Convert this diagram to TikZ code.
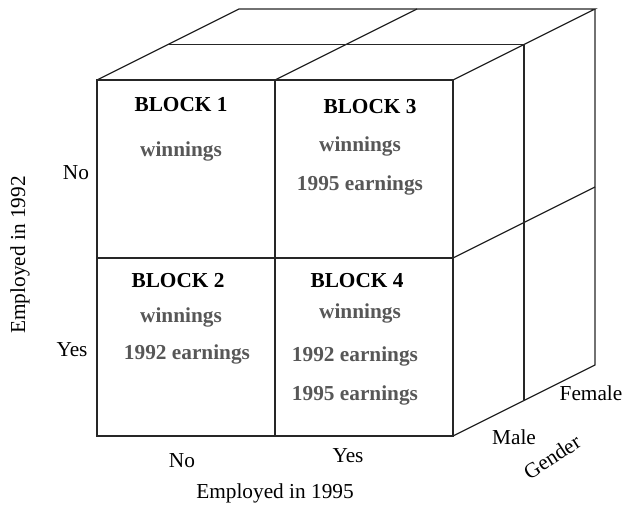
\documentclass[tikz,border=0pt]{standalone}
\usepackage{fontspec}
\setmainfont{Liberation Serif}
\begin{document}
\begin{tikzpicture}[x=1pt,y=-1pt,
  edge/.style={line width=1.3pt,black!85},
  lbl/.style={font=\fontsize{21.3}{25}\selectfont,inner sep=0pt},
  blk/.style={font=\fontsize{21.3}{25}\selectfont\bfseries,inner sep=0pt},
  itm/.style={font=\fontsize{21.3}{25}\selectfont\bfseries,text=black!66,inner sep=0pt}]
\useasboundingbox (0,0) rectangle (624,505);
% front face corners
\coordinate (FTL) at (97,80);
\coordinate (FTM) at (275,80);
\coordinate (FTR) at (453,80);
\coordinate (FML) at (97,258);
\coordinate (FMM) at (275,258);
\coordinate (FMR) at (453,258);
\coordinate (FBL) at (97,436);
\coordinate (FBM) at (275,436);
\coordinate (FBR) at (453,436);
% half depth
\coordinate (HTL) at (168,44.5);
\coordinate (HTR) at (524,44.5);
\coordinate (HBR) at (524,401);
% back
\coordinate (BTL) at (239,9);
\coordinate (BTM) at (417,9);
\coordinate (BTR) at (595,9);
\coordinate (BMR) at (595,187);
\coordinate (BBR) at (595,365);
% front face
\draw[edge] (FTL) -- (FTR) -- (FBR) -- (FBL) -- cycle;
\draw[edge] (FTM) -- (FBM);
\draw[edge] (FML) -- (FMR);
% top face
\draw[edge] (FTL) -- (BTL) -- (BTR) -- (FTR);
\draw[edge] (FTM) -- (BTM);
\draw[edge] (HTL) -- (HTR);
% right face
\draw[edge] (BTR) -- (BBR) -- (FBR);
\draw[edge] (FMR) -- (BMR);
\draw[edge] (HTR) -- (HBR);
% block texts
\node[blk] (b1) at (181,105) {BLOCK 1};
\node[itm] (b1a) at (181,151) {winnings};
\node[blk] (b3) at (370,107) {BLOCK 3};
\node[itm] (b3a) at (360,146) {winnings};
\node[itm] (b3b) at (360,185) {1995 earnings};
\node[blk] (b2) at (178,281) {BLOCK 2};
\node[itm] (b2a) at (181,317) {winnings};
\node[itm] (b2b) at (187,354) {1992 earnings};
\node[blk] (b4) at (357,281) {BLOCK 4};
\node[itm] (b4a) at (360,313) {winnings};
\node[itm] (b4b) at (355,356) {1992 earnings};
\node[itm] (b4c) at (355,395) {1995 earnings};
% axis labels
\node[lbl] (yno) at (76,173) {No};
\node[lbl] (yyes) at (72,350) {Yes};
\node[lbl,rotate=90] (ylab) at (20,255) {Employed in 1992};
\node[lbl] (xno) at (182,461) {No};
\node[lbl] (xyes) at (348,456) {Yes};
\node[lbl] (xlab) at (275,493) {Employed in 1995};
\node[lbl] (male) at (514,437) {Male};
\node[lbl] (female) at (591,393) {Female};
\node[lbl,rotate=33] (glab) at (552,457) {Gender};
\end{tikzpicture}
\end{document}
